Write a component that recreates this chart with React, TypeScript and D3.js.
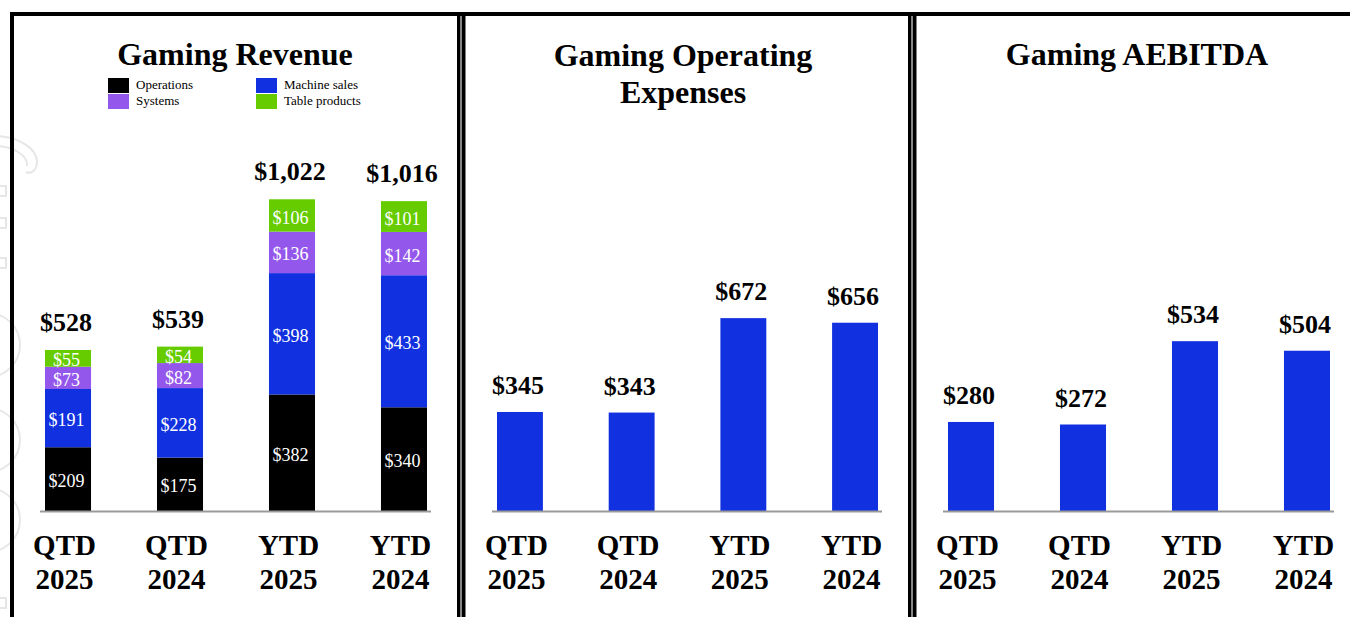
import React from "react";
import * as d3 from "d3";

const categories: string[][] = [
  ["QTD", "2025"],
  ["QTD", "2024"],
  ["YTD", "2025"],
  ["YTD", "2024"],
];
const catKeys = categories.map((c) => c.join(" "));

const seriesNames = ["Operations", "Machine sales", "Systems", "Table products"];
const operations = [209, 175, 382, 340];
const machineSales = [191, 228, 398, 433];
const systems = [73, 82, 136, 142];
const tableProducts = [55, 54, 106, 101];
const revenueTotals = [528, 539, 1022, 1016];

const operatingExpenses = [345, 343, 672, 656];
const aebitda = [280, 272, 534, 504];

const COLORS: Record<string, string> = {
  Operations: "#000000",
  "Machine sales": "#1131E0",
  Systems: "#9457EB",
  "Table products": "#66CC00",
};
const BLUE = "#1131E0";
const FONT = "'Times New Roman', 'Liberation Serif', serif";
const BASE = 511;

const fmt = (v: number) => "$" + d3.format(",")(v);

function makeX(r0: number, r1: number) {
  return d3.scaleBand<string>().domain(catKeys).range([r0, r1]).paddingInner(0.589).paddingOuter(0);
}

function CategoryLabels({ x }: { x: d3.ScaleBand<string> }) {
  return (
    <g>
      {categories.map((c, i) => {
        const cx = (x(catKeys[i]) as number) + x.bandwidth() / 2 - 3.5;
        return (
          <text key={i} x={cx} textAnchor="middle" fontFamily={FONT} fontWeight="bold" fontSize={29} fill="#000">
            <tspan x={cx} y={555}>{c[0]}</tspan>
            <tspan x={cx} y={589}>{c[1]}</tspan>
          </text>
        );
      })}
    </g>
  );
}

function Axis({ x }: { x: d3.ScaleBand<string> }) {
  const [r0, r1] = x.range();
  return <line x1={r0 - 5} x2={r1 + 4} y1={BASE + 0.5} y2={BASE + 0.5} stroke="#9a9a9a" strokeWidth={2} />;
}

function SimpleBars({ x, values, max, pxMax }: { x: d3.ScaleBand<string>; values: number[]; max: number; pxMax: number }) {
  const y = d3.scaleLinear().domain([0, max]).range([BASE, BASE - pxMax]);
  return (
    <g>
      {values.map((v, i) => {
        const bx = x(catKeys[i]) as number;
        return (
          <g key={i}>
            <rect x={bx} y={y(v)} width={x.bandwidth()} height={BASE - y(v)} fill={BLUE} />
            <text x={bx + x.bandwidth() / 2 - 2} y={y(v) - 18} textAnchor="middle" fontFamily={FONT} fontWeight="bold" fontSize={26} fill="#000">
              {fmt(v)}
            </text>
          </g>
        );
      })}
    </g>
  );
}

export default function App() {
  const x1 = makeX(45, 427);
  const x2 = makeX(497, 878);
  const x3 = makeX(948, 1330);

  const y1 = d3.scaleLinear().domain([0, 1100]).range([BASE, BASE - 1100 * 0.305]);

  const rows = categories.map((_, i) => ({
    key: catKeys[i],
    Operations: operations[i],
    "Machine sales": machineSales[i],
    Systems: systems[i],
    "Table products": tableProducts[i],
  }));
  const stacked = d3.stack<any>().keys(seriesNames)(rows);

  return (
    <svg width={1350} height={617} style={{ position: "absolute", left: 0, top: 0, background: "#fff" }}>
      <rect x={0} y={0} width={1350} height={617} fill="#fff" />
      {/* faint watermark at left edge */}
      <g fill="none" stroke="#e6e6e6" strokeWidth={2}>
        <path d="M -5 136 C 20 136, 38 150, 37 163 C 36 172, 30 174, 26 172" />
        <path d="M -5 146 C 14 146, 28 156, 27 166" />
        <rect x={-4} y={186} width={10} height={10} />
        <rect x={-4} y={218} width={10} height={10} />
        <rect x={-4} y={258} width={10} height={10} />
        <circle cx={-12} cy={345} r={32} />
        <circle cx={-12} cy={440} r={32} />
        <circle cx={-12} cy={520} r={32} />
        <rect x={-4} y={598} width={10} height={10} />
      </g>

      {/* panel borders */}
      <g fill="#000">
        <rect x={10} y={12} width={1340} height={4} />
        <rect x={10} y={12} width={4} height={605} />
        <rect x={457} y={12} width={3.5} height={605} />
        <rect x={462} y={12} width={3.5} height={605} />
        <rect x={908} y={12} width={3.5} height={605} />
        <rect x={913} y={12} width={3.5} height={605} />
      </g>
      <rect x={460.5} y={16} width={1.5} height={601} fill="#888" />
      <rect x={911.5} y={16} width={1.5} height={601} fill="#888" />

      {/* Panel 1: Gaming Revenue */}
      <text x={235} y={65} textAnchor="middle" fontFamily={FONT} fontWeight="bold" fontSize={32}>Gaming Revenue</text>
      {seriesNames.map((s, i) => {
        const col = i === 0 || i === 2 ? 0 : 1;
        const row = i < 2 ? 0 : 1;
        const lx = col === 0 ? 108 : 256;
        const ly = row === 0 ? 78 : 94;
        return (
          <g key={s}>
            <rect x={lx} y={ly} width={21} height={15} fill={COLORS[s]} />
            <text x={lx + 28} y={ly + 11} fontFamily={FONT} fontSize={13} fill="#000">{s}</text>
          </g>
        );
      })}
      <g>
        {stacked.map((layer) => (
          <g key={layer.key}>
            {layer.map((d, i) => {
              const bx = x1(catKeys[i]) as number;
              const top = y1(d[1]);
              const bot = y1(d[0]);
              return (
                <g key={i}>
                  <rect x={bx} y={top} width={x1.bandwidth()} height={bot - top} fill={COLORS[layer.key]} />
                  <text x={bx + x1.bandwidth() / 2 - 1.5} y={(top + bot) / 2} dy="0.45em" textAnchor="middle" fontFamily={FONT} fontSize={18} fill="#fff">
                    {fmt(d[1] - d[0])}
                  </text>
                </g>
              );
            })}
          </g>
        ))}
        {revenueTotals.map((t, i) => (
          <text key={i} x={(x1(catKeys[i]) as number) + x1.bandwidth() / 2 - 2} y={y1(t) - 19} textAnchor="middle" fontFamily={FONT} fontWeight="bold" fontSize={26}>
            {fmt(t)}
          </text>
        ))}
      </g>
      <Axis x={x1} />
      <CategoryLabels x={x1} />

      {/* Panel 2: Gaming Operating Expenses */}
      <text textAnchor="middle" fontFamily={FONT} fontWeight="bold" fontSize={32}>
        <tspan x={683} y={66}>Gaming Operating</tspan>
        <tspan x={683} y={103}>Expenses</tspan>
      </text>
      <SimpleBars x={x2} values={operatingExpenses} max={700} pxMax={700 * 0.287} />
      <Axis x={x2} />
      <CategoryLabels x={x2} />

      {/* Panel 3: Gaming AEBITDA */}
      <text x={1137} y={65} textAnchor="middle" fontFamily={FONT} fontWeight="bold" fontSize={32}>Gaming AEBITDA</text>
      <SimpleBars x={x3} values={aebitda} max={600} pxMax={600 * 0.318} />
      <Axis x={x3} />
      <CategoryLabels x={x3} />
    </svg>
  );
}
